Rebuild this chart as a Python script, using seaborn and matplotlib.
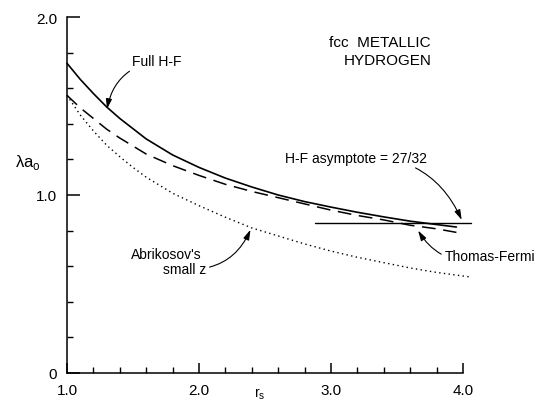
import numpy as np
import pandas as pd
import matplotlib
matplotlib.use("Agg")
import matplotlib.pyplot as plt
import seaborn as sns

# ---- data ----
r_full = [1.0, 1.1, 1.2, 1.3, 1.4, 1.6, 1.8, 2.0, 2.2, 2.4, 2.6, 2.8, 3.0, 3.2, 3.4, 3.6, 3.8, 3.95]
full_hf = [1.74, 1.65, 1.57, 1.495, 1.43, 1.315, 1.225, 1.155, 1.095, 1.045, 1.0, 0.963, 0.932, 0.903, 0.877, 0.853, 0.834, 0.82]

r_tf = [1.0, 1.1, 1.2, 1.3, 1.4, 1.6, 1.8, 2.0, 2.2, 2.4, 2.6, 2.8, 3.0, 3.2, 3.4, 3.6, 3.8, 3.95]
thomas_fermi = [1.56, 1.49, 1.43, 1.37, 1.32, 1.23, 1.165, 1.11, 1.06, 1.02, 0.985, 0.95, 0.915, 0.885, 0.86, 0.83, 0.81, 0.79]

r_ab = [1.0, 1.1, 1.2, 1.3, 1.4, 1.5, 1.6, 1.8, 2.0, 2.2, 2.4, 2.6, 2.8, 3.0, 3.2, 3.4, 3.6, 3.8, 4.05]
abrikosov = [1.56, 1.45, 1.36, 1.28, 1.215, 1.155, 1.10, 1.01, 0.94, 0.875, 0.815, 0.77, 0.725, 0.685, 0.65, 0.62, 0.59, 0.565, 0.54]

r_asym = [2.88, 4.06]
asymptote = [27 / 32, 27 / 32]

x_ticks = [1.0, 2.0, 3.0, 4.0]
x_ticklabels = ["1.0", "2.0", "3.0", "4.0"]
y_ticks = [0.0, 1.0, 2.0]
y_ticklabels = ["0", "1.0", "2.0"]

sns.set_theme(style="ticks")
plt.rcParams["font.family"] = ["Liberation Sans", "DejaVu Sans"]
plt.rcParams["text.color"] = "black"
plt.rcParams["axes.labelcolor"] = "black"
plt.rcParams["xtick.color"] = "black"
plt.rcParams["ytick.color"] = "black"

fig = plt.figure(figsize=(5.34, 4.02), dpi=100)
ax = fig.add_axes([67 / 534, 1 - 374 / 402, 396 / 534, 356 / 402])

df_full = pd.DataFrame({"r": r_full, "lam": full_hf})
df_tf = pd.DataFrame({"r": r_tf, "lam": thomas_fermi})
df_ab = pd.DataFrame({"r": r_ab, "lam": abrikosov})
df_as = pd.DataFrame({"r": r_asym, "lam": asymptote})

sns.lineplot(data=df_full, x="r", y="lam", ax=ax, color="black", lw=1.2, clip_on=False)
sns.lineplot(data=df_tf, x="r", y="lam", ax=ax, color="black", lw=1.1,
             linestyle=(0, (9, 5)), clip_on=False)
sns.lineplot(data=df_ab, x="r", y="lam", ax=ax, color="black", lw=1.0,
             linestyle=(0, (1, 2.4)), clip_on=False)
sns.lineplot(data=df_as, x="r", y="lam", ax=ax, color="black", lw=1.0, clip_on=False)

ax.set_xlim(1.0, 4.0)
ax.set_ylim(0.0, 2.0)
sns.despine(ax=ax)
for s in ["left", "bottom"]:
    ax.spines[s].set_linewidth(1.1)
    ax.spines[s].set_color("black")

ax.set_xticks(x_ticks)
ax.set_xticklabels(x_ticklabels)
ax.set_yticks(y_ticks)
ax.set_yticklabels(y_ticklabels)
ax.set_xticks(np.arange(1.2, 4.0, 0.2), minor=True)
ax.set_yticks(np.arange(0.2, 2.0, 0.2), minor=True)
ax.tick_params(which="major", direction="in", length=7, width=1.1, labelsize=11,
               colors="black", pad=7)
ax.tick_params(which="minor", direction="in", length=4, width=1.0, colors="black")
ax.tick_params(axis="y", which="major", length=9)

ax.set_xlabel("r$_{\\mathregular{s}}$", fontsize=10)
ax.xaxis.set_label_coords(0.487, -0.035)
ax.set_ylabel("λa$_{\\mathregular{o}}$", fontsize=12, rotation=0, va="center", ha="center")
ax.yaxis.set_label_coords(-0.098, 0.595)

fs = 10
ax.text(3.37, 1.86, "fcc  METALLIC", fontsize=11, ha="center", va="center")
ax.text(3.43, 1.76, "HYDROGEN", fontsize=11, ha="center", va="center")

arrow_kw = dict(arrowstyle="-|>,head_length=0.6,head_width=0.18", color="black", lw=0.8,
                shrinkA=0, shrinkB=0)

ax.annotate("Full H-F", xy=(1.303, 1.483), xytext=(1.49, 1.753), fontsize=fs,
            ha="left", va="center",
            arrowprops=dict(connectionstyle="arc3,rad=0.35", **arrow_kw))

ax.annotate("H-F asymptote = 27/32", xy=(3.99, 0.86), xytext=(3.73, 1.21), fontsize=fs,
            ha="right", va="center",
            arrowprops=dict(connectionstyle="arc3,rad=-0.35", **arrow_kw))

ax.annotate("Thomas-Fermi", xy=(3.66, 0.80), xytext=(3.86, 0.657), fontsize=fs,
            ha="left", va="center",
            arrowprops=dict(connectionstyle="arc3,rad=-0.4", **arrow_kw))

ax.text(1.75, 0.669, "Abrikosov's", fontsize=fs, ha="center", va="center")
ax.annotate("small z", xy=(2.39, 0.805), xytext=(2.055, 0.584), fontsize=fs,
            ha="right", va="center",
            arrowprops=dict(connectionstyle="arc3,rad=0.35", **arrow_kw))

fig.savefig("out.png", dpi=100)
